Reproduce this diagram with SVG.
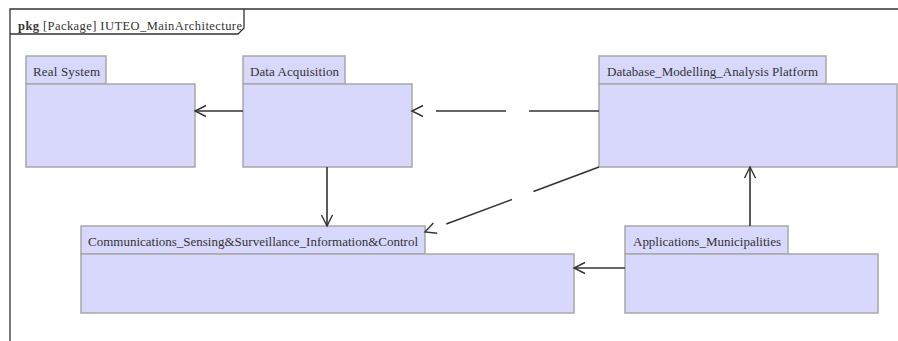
<svg xmlns="http://www.w3.org/2000/svg" width="898" height="341" viewBox="0 0 898 341">
<style>
.bg{fill:#ffffff}
.frame{fill:none;stroke:#333333;stroke-width:1.3}
.box{fill:#d8d8fc;stroke:#a8a8a8;stroke-width:1.5}
.lbl{font-family:"Liberation Serif","Times New Roman",serif;font-size:13px;fill:#333333}
.ftxt{font-family:"Liberation Serif","Times New Roman",serif;font-size:12.5px;fill:#333333}
.edge{fill:none;stroke:#333333;stroke-width:1.6}
.dash{stroke-dasharray:70 23}
</style>
<defs>
<marker id="open" markerWidth="14" markerHeight="14" refX="12" refY="7" orient="auto" markerUnits="userSpaceOnUse">
<path d="M1,1.5 L12,7 L1,12.5" fill="none" stroke="#333333" stroke-width="1.4"/>
</marker>
</defs>
<rect class="bg" x="0" y="0" width="898" height="341"/>
<g id="frame">
<path class="frame" d="M10,341 V9 H898"/>
<path class="frame" d="M10,34 H238 L244,28 V9"/>
<text class="ftxt" x="18" y="30" textLength="224"><tspan font-weight="bold">pkg</tspan> [Package] IUTEO_MainArchitecture</text>
</g>
<g id="real-system">
<rect class="box" x="26" y="56" width="80" height="28"/>
<rect class="box" x="26" y="84" width="169" height="83"/>
<text class="lbl" x="33" y="76" textLength="67">Real System</text>
</g>
<g id="data-acquisition">
<rect class="box" x="243" y="56" width="102" height="28"/>
<rect class="box" x="243" y="84" width="169" height="83"/>
<text class="lbl" x="250" y="76" textLength="89">Data Acquisition</text>
</g>
<g id="database-platform">
<rect class="box" x="599" y="56" width="227" height="28"/>
<rect class="box" x="599" y="84" width="298" height="83"/>
<text class="lbl" x="607" y="76" textLength="211">Database_Modelling_Analysis Platform</text>
</g>
<g id="communications">
<rect class="box" x="81" y="226" width="344" height="28"/>
<rect class="box" x="81" y="254" width="493" height="59"/>
<text class="lbl" x="88" y="246" textLength="330">Communications_Sensing&amp;Surveillance_Information&amp;Control</text>
</g>
<g id="applications">
<rect class="box" x="625" y="226" width="163" height="28"/>
<rect class="box" x="625" y="254" width="253" height="59"/>
<text class="lbl" x="633" y="246" textLength="148">Applications_Municipalities</text>
</g>
<g id="connectors">
<line class="edge" x1="243" y1="111" x2="195" y2="111" marker-end="url(#open)"/>
<line class="edge dash" x1="599" y1="111" x2="412" y2="111" marker-end="url(#open)"/>
<line class="edge" x1="327" y1="167" x2="327" y2="226" marker-end="url(#open)"/>
<line class="edge dash" x1="599" y1="167" x2="425" y2="232" marker-end="url(#open)"/>
<line class="edge" x1="750" y1="226" x2="750" y2="167" marker-end="url(#open)"/>
<line class="edge" x1="625" y1="268" x2="574" y2="268" marker-end="url(#open)"/>
</g>
</svg>
